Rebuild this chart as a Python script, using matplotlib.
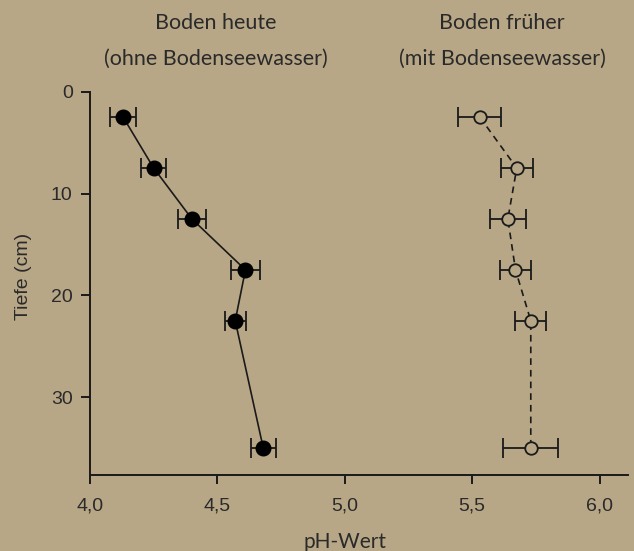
import numpy as np
import matplotlib.pyplot as plt

# Tiefe der Proben (cm)
depth = [2.5, 7.5, 12.5, 17.5, 22.5, 35.0]

# Boden heute (ohne Bodenseewasser)
ph_heute = [4.13, 4.25, 4.40, 4.61, 4.57, 4.68]
err_heute = [0.05, 0.05, 0.056, 0.058, 0.042, 0.05]

# Boden früher (mit Bodenseewasser)
ph_frueher = [5.53, 5.675, 5.64, 5.67, 5.73, 5.73]
err_frueher = [0.085, 0.062, 0.072, 0.061, 0.061, 0.108]

x_ticks = [4.0, 4.5, 5.0, 5.5, 6.0]
x_ticklabels = ['4,0', '4,5', '5,0', '5,5', '6,0']
y_ticks = [0, 10, 20, 30]

bg = '#b7a786'
ink = '#1a1a1a'
txt = '#2a2a2a'

W, H = 634, 551
fig = plt.figure(figsize=(W / 100, H / 100), dpi=100, facecolor=bg)
ax = fig.add_axes([90 / W, 1 - 474.5 / H, (627.6 - 90) / W, (474.5 - 91.7) / H],
                  facecolor=bg)

# heute: gefüllte Punkte, durchgezogene Linie
ax.plot(ph_heute, depth, '-', color=ink, lw=1.2, zorder=2)
ax.errorbar(ph_heute, depth, xerr=err_heute, fmt='o', color='black',
            ecolor=ink, elinewidth=1.3, capsize=7, capthick=1.3,
            markersize=10.5, zorder=3)

# früher: offene Punkte, gestrichelte Linie
ax.plot(ph_frueher, depth, '--', color=ink, lw=1.2, dashes=(4, 3), zorder=2)
ax.errorbar(ph_frueher, depth, xerr=err_frueher, fmt='o', color=ink,
            ecolor=ink, elinewidth=1.3, capsize=7, capthick=1.3,
            markersize=9, markerfacecolor=bg, markeredgecolor=ink,
            markeredgewidth=1.3, zorder=3)

ax.set_xlim(4.0, 6.11)
ax.set_ylim(37.6, 0)
ax.set_xticks(x_ticks)
ax.set_xticklabels(x_ticklabels)
ax.set_yticks(y_ticks)

for s in ['top', 'right']:
    ax.spines[s].set_visible(False)
for s in ['left', 'bottom']:
    ax.spines[s].set_linewidth(1.4)
    ax.spines[s].set_color(ink)

ax.tick_params(length=6.5, width=1.4, color=ink, labelcolor=txt,
               labelsize=14)
ax.tick_params(axis='x', pad=10)
ax.tick_params(axis='y', pad=6)
for lab in ax.get_xticklabels() + ax.get_yticklabels():
    lab.set_family('Liberation Sans')

# Achsenbeschriftungen
fig.text(345 / W, 1 - 548 / H, 'pH-Wert', family='Lato', fontsize=15,
         color=txt, ha='center', va='baseline')
fig.text(24 / W, 1 - 276.5 / H, 'Tiefe (cm)', family='Liberation Sans',
         fontsize=14, color=txt, ha='center', va='center', rotation=90)

# Überschriften der beiden Reihen
for xc, l1, l2 in [(216, 'Boden heute', '(ohne Bodenseewasser)'),
                   (502, 'Boden früher', '(mit Bodenseewasser)')]:
    fig.text(xc / W, 1 - 29 / H, l1, family='Lato', fontsize=15.5,
             color=txt, ha='center', va='baseline')
    fig.text(xc / W, 1 - 65 / H, l2, family='Lato', fontsize=15.5,
             color=txt, ha='center', va='baseline')

fig.savefig('out.png', dpi=100, facecolor=bg)
